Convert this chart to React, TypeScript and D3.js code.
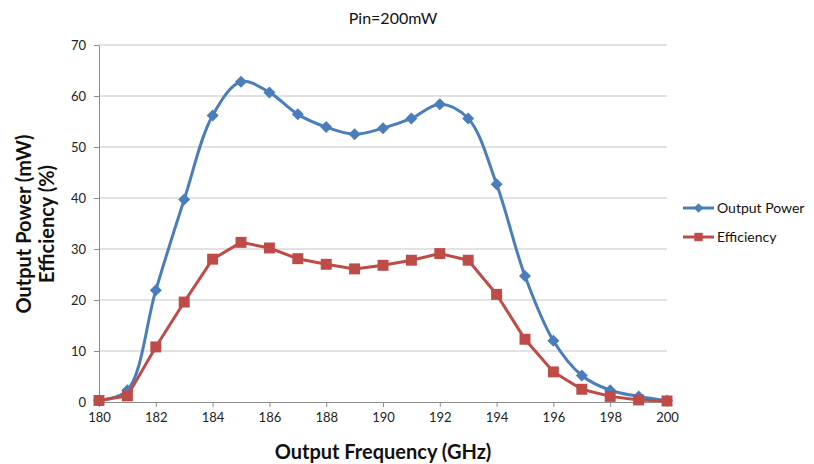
import React, { useEffect, useRef } from 'react';
import * as d3 from 'd3';

const frequencies = [180, 181, 182, 183, 184, 185, 186, 187, 188, 189, 190, 191, 192, 193, 194, 195, 196, 197, 198, 199, 200];
const outputPower = [0.3, 2.3, 21.9, 39.7, 56.2, 62.8, 60.7, 56.4, 53.9, 52.5, 53.7, 55.6, 58.4, 55.6, 42.7, 24.7, 12.0, 5.2, 2.3, 1.1, 0.3];
const efficiency = [0.3, 1.2, 10.8, 19.6, 28.0, 31.3, 30.2, 28.1, 27.0, 26.1, 26.8, 27.8, 29.1, 27.8, 21.1, 12.3, 5.9, 2.5, 1.1, 0.4, 0.2];
const xTicks = [180, 182, 184, 186, 188, 190, 192, 194, 196, 198, 200];
const yTicks = [0, 10, 20, 30, 40, 50, 60, 70];

const BLUE = '#4a7ebb';
const RED = '#be4b48';
const FONT = 'Lato, "Open Sans", sans-serif';

const App = () => {
  const svgRef = useRef<SVGSVGElement>(null);

  useEffect(() => {
    const svg = d3.select(svgRef.current);
    svg.selectAll('*').remove();

    const left = 99, right = 667, top = 45, bottom = 402;
    const x = d3.scaleLinear().domain([180, 200]).range([left, right]);
    const y = d3.scaleLinear().domain([0, 70]).range([bottom, top]);

    // grille
    svg.append('g').selectAll('line').data(yTicks.filter(d => d > 0)).enter().append('line')
      .attr('x1', left).attr('x2', right)
      .attr('y1', d => y(d)).attr('y2', d => y(d))
      .attr('stroke', '#d9d9d9').attr('stroke-width', 1.3);

    // axes
    const xAxis = svg.append('g').attr('transform', `translate(0,${bottom})`)
      .call(d3.axisBottom(x).tickValues(xTicks).tickSize(5).tickSizeOuter(0).tickPadding(6));
    const yAxis = svg.append('g').attr('transform', `translate(${left},0)`)
      .call(d3.axisLeft(y).tickValues(yTicks).tickSize(5).tickSizeOuter(0).tickPadding(8));
    [xAxis, yAxis].forEach(a => {
      a.selectAll('path, line').attr('stroke', '#8c8c8c');
      a.selectAll('text').attr('font-family', FONT).attr('font-size', 13).attr('fill', '#222');
    });

    const series = [
      { values: outputPower, color: BLUE, curve: d3.curveCatmullRom, shape: d3.symbolSquare, size: 72, rot: 45 },
      { values: efficiency, color: RED, curve: d3.curveLinear, shape: d3.symbolSquare, size: 120, rot: 0 },
    ];

    series.forEach(s => {
      const line = d3.line<number>().x((d, i) => x(frequencies[i])).y(d => y(d)).curve(s.curve);
      svg.append('path').datum(s.values).attr('d', line)
        .attr('fill', 'none').attr('stroke', s.color).attr('stroke-width', 3);
      svg.append('g').selectAll('path').data(s.values).enter().append('path')
        .attr('d', d3.symbol().type(s.shape).size(s.size)())
        .attr('transform', (d, i) => `translate(${x(frequencies[i])},${y(d)}) rotate(${s.rot})`)
        .attr('fill', s.color);
    });

    // titre et libellés
    svg.append('text').attr('x', 393).attr('y', 24).attr('text-anchor', 'middle')
      .attr('font-family', FONT).attr('font-size', 16).attr('fill', '#111').text('Pin=200mW');
    svg.append('text').attr('x', 383).attr('y', 459).attr('text-anchor', 'middle')
      .attr('font-family', FONT).attr('font-size', 20).attr('font-weight', 'bold').attr('fill', '#111')
      .text('Output Frequency (GHz)');
    const yl = svg.append('text').attr('transform', 'translate(31,224) rotate(-90)').attr('text-anchor', 'middle')
      .attr('font-family', FONT).attr('font-size', 20).attr('font-weight', 'bold').attr('fill', '#111');
    yl.append('tspan').attr('x', 0).attr('dy', 0).text('Output Power (mW)');
    yl.append('tspan').attr('x', 0).attr('dy', 23).text('Efficiency (%)');

    // légende
    const legend = [
      { label: 'Output Power', color: BLUE, size: 45, rot: 45 },
      { label: 'Efficiency', color: RED, size: 70, rot: 0 },
    ];
    legend.forEach((l, i) => {
      const ly = 208 + i * 29;
      svg.append('line').attr('x1', 683).attr('x2', 714).attr('y1', ly).attr('y2', ly)
        .attr('stroke', l.color).attr('stroke-width', 3);
      svg.append('path').attr('d', d3.symbol().type(d3.symbolSquare).size(l.size)())
        .attr('transform', `translate(698.5,${ly}) rotate(${l.rot})`).attr('fill', l.color);
      svg.append('text').attr('x', 717).attr('y', ly + 5)
        .attr('font-family', FONT).attr('font-size', 14).attr('fill', '#111').text(l.label);
    });
  }, []);

  return <svg ref={svgRef} width={814} height={464} style={{ position: 'absolute', left: 0, top: 0, background: '#fff' }} />;
};

export default App;
